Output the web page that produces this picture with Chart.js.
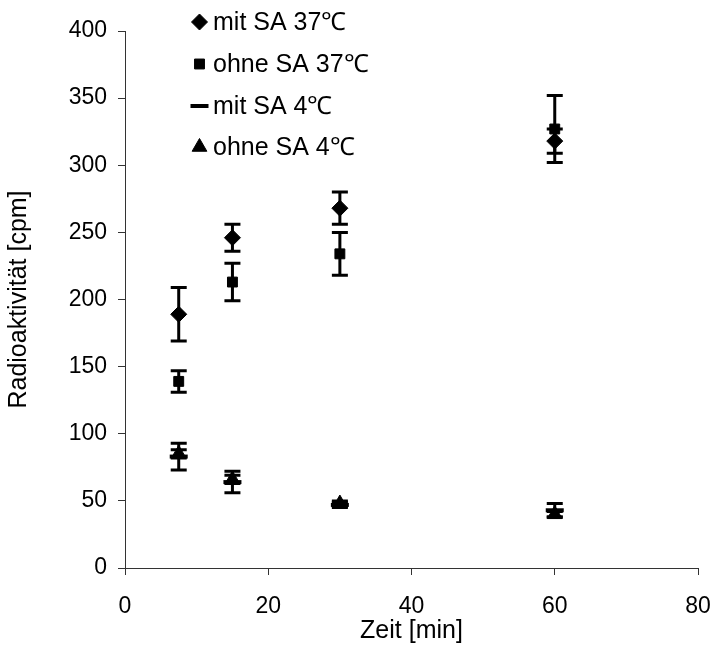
<!DOCTYPE html>
<html>
<head>
<meta charset="utf-8">
<script src="https://cdn.jsdelivr.net/npm/chart.js@4/dist/chart.umd.min.js"></script>
<style>
  html, body { margin: 0; padding: 0; background: #fff; }
  #wrap { width: 712px; height: 659px; }
</style>
</head>
<body>
<div id="wrap"><canvas id="chart" width="712" height="659"></canvas></div>
<script>
// Zeitpunkte [min]
const times = [7.5, 15, 30, 60];

// Radioaktivität [cpm] je Serie
const seriesNames = ['mit SA 37℃', 'ohne SA 37℃', 'mit SA 4℃', 'ohne SA 4℃'];
const mitSA37 = [189, 246, 268, 318];
const ohneSA37 = [139, 213, 234, 327];
const mitSA4 = [83, 64, 47, 43];
const ohneSA4 = [85, 66, 48, 40];

// Fehlerbalken (+/-)
const errMitSA37 = [20, 10, 12, 9];
const errOhneSA37 = [8, 14, 16, 25];
const errMitSA4 = [10, 8, 2, 5];
const errOhneSA4 = [3, 3, 2, 2];

// Achsen
const xTicks = [0, 20, 40, 60, 80];
const yTicks = [0, 50, 100, 150, 200, 250, 300, 350, 400];

const FONT = '"Liberation Sans", Arial, sans-serif';
const axisColor = '#333';

const values = [mitSA37, ohneSA37, mitSA4, ohneSA4];
const errors = [errMitSA37, errOhneSA37, errMitSA4, errOhneSA4];
const styles = [
  { pointStyle: 'rectRot', radius: 8, border: 1 },
  { pointStyle: 'rect', radius: 7, border: 1 },
  { pointStyle: 'line', radius: 9, border: 4 },
  { pointStyle: 'triangle', radius: 8.5, border: 1 }
];

const datasets = values.map((vals, i) => ({
  label: seriesNames[i],
  data: times.map((t, j) => ({ x: t, y: vals[j] })),
  showLine: false,
  pointStyle: styles[i].pointStyle,
  pointRadius: styles[i].radius,
  pointHoverRadius: styles[i].radius,
  pointBorderWidth: styles[i].border,
  backgroundColor: '#000',
  borderColor: '#000'
}));

// Error bars, drawn below the markers
const errorBars = {
  id: 'errorBars',
  beforeDatasetsDraw(chart) {
    const ctx = chart.ctx;
    const xs = chart.scales.x, ys = chart.scales.y;
    ctx.save();
    ctx.strokeStyle = '#000';
    ctx.lineWidth = 3;
    errors.forEach((errs, i) => {
      errs.forEach((e, j) => {
        const x = xs.getPixelForValue(times[j]);
        const top = ys.getPixelForValue(values[i][j] + e);
        const bot = ys.getPixelForValue(values[i][j] - e);
        ctx.beginPath();
        ctx.moveTo(x, top); ctx.lineTo(x, bot);
        ctx.moveTo(x - 8, top); ctx.lineTo(x + 8, top);
        ctx.moveTo(x - 8, bot); ctx.lineTo(x + 8, bot);
        ctx.stroke();
      });
    });
    ctx.restore();
  }
};

// Legend inside the plot area
const innerLegend = {
  id: 'innerLegend',
  afterDraw(chart) {
    const ctx = chart.ctx;
    const rows = [22, 64, 106, 147];
    ctx.save();
    ctx.font = '25px ' + FONT;
    ctx.textBaseline = 'middle';
    ctx.textAlign = 'left';
    seriesNames.forEach((name, i) => {
      const st = styles[i];
      ctx.strokeStyle = '#000';
      ctx.fillStyle = '#000';
      ctx.lineWidth = st.border;
      Chart.helpers.drawPoint(ctx, { pointStyle: st.pointStyle, radius: st.radius, rotation: 0, borderWidth: st.border }, 199.5, rows[i]);
      ctx.fillStyle = '#000';
      ctx.fillText(name, 213, rows[i] + 1);
    });
    ctx.restore();
  }
};

new Chart(document.getElementById('chart'), {
  type: 'scatter',
  data: { datasets },
  options: {
    responsive: false,
    animation: false,
    layout: { padding: { top: 31, right: 14, left: 0, bottom: 0 } },
    plugins: { legend: { display: false }, tooltip: { enabled: false } },
    scales: {
      x: {
        type: 'linear',
        min: xTicks[0],
        max: xTicks[xTicks.length - 1],
        afterBuildTicks: s => { s.ticks = xTicks.map(v => ({ value: v })); },
        afterFit: s => { s.height = 91; s.paddingLeft = 0; s.paddingRight = 0; },
        ticks: { font: { family: FONT, size: 23 }, color: '#000', padding: 18, maxRotation: 0 },
        grid: { drawOnChartArea: false, drawTicks: true, tickLength: 7, color: axisColor },
        border: { color: axisColor, width: 1 },
        title: { display: true, text: 'Zeit [min]', font: { family: FONT, size: 25 }, color: '#000', padding: { top: 4, bottom: 13 } }
      },
      y: {
        type: 'linear',
        min: yTicks[0],
        max: yTicks[yTicks.length - 1],
        afterBuildTicks: s => { s.ticks = yTicks.map(v => ({ value: v })); },
        afterFit: s => { s.width = 125; s.paddingTop = 0; s.paddingBottom = 0; },
        ticks: { font: { family: FONT, size: 23 }, color: '#000', padding: 11 },
        grid: { drawOnChartArea: false, drawTicks: true, tickLength: 7, color: axisColor },
        border: { color: axisColor, width: 1 },
        title: { display: true, text: 'Radioaktivität [cpm]', font: { family: FONT, size: 25 }, color: '#000', padding: { top: 4, bottom: 4 } }
      }
    }
  },
  plugins: [errorBars, innerLegend]
});
</script>
</body>
</html>
